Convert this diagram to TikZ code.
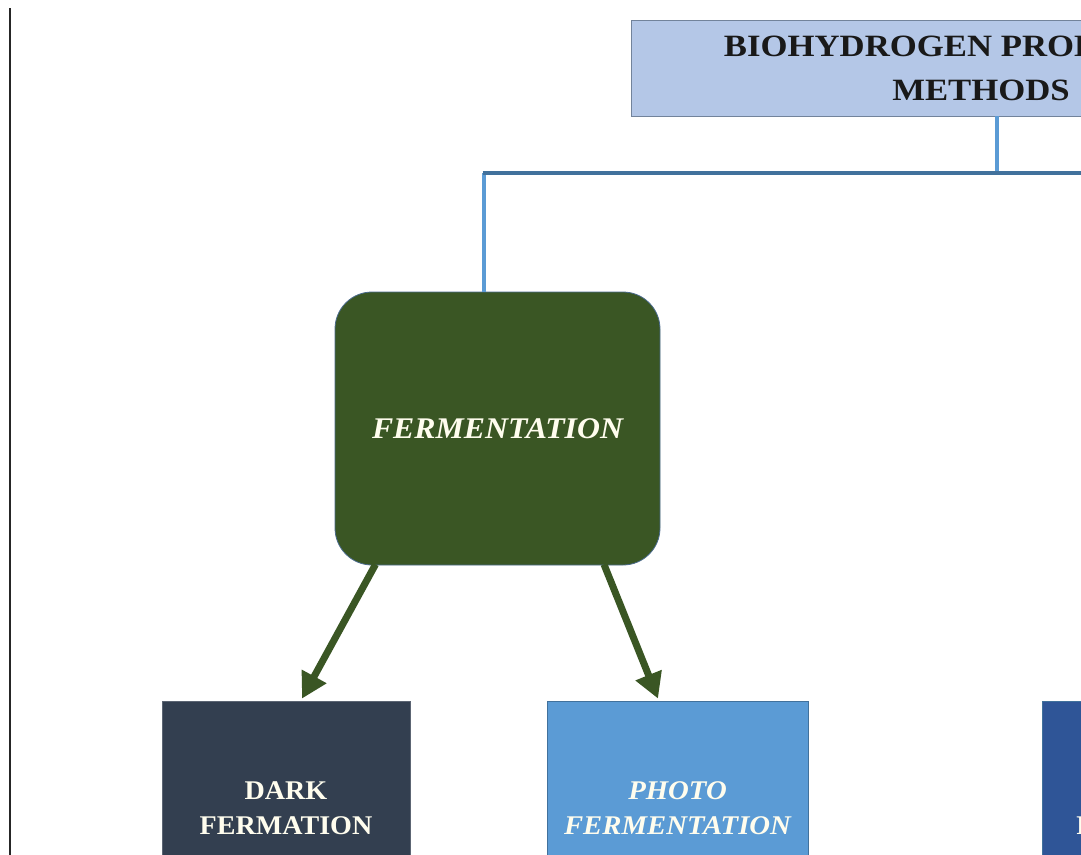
\documentclass[tikz,border=0pt]{standalone}
\usepackage{fontspec}
\setmainfont{Liberation Serif}
\newfontfamily\titlefont[FakeStretch=1.12]{Liberation Serif}
\newfontfamily\fermfont[FakeStretch=1.06]{Liberation Serif}
\newfontfamily\darkfont[FakeStretch=1.04]{Liberation Serif}
\newfontfamily\photofont[FakeStretch=1.065]{Liberation Serif}
\usetikzlibrary{arrows.meta,calc}
\definecolor{topfill}{HTML}{B4C7E7}
\definecolor{topedge}{HTML}{72839B}
\definecolor{fermfill}{HTML}{3A5624}
\definecolor{fermedge}{HTML}{4A6A8C}
\definecolor{darkfill}{HTML}{333F50}
\definecolor{photofill}{HTML}{5B9BD5}
\definecolor{thirdfill}{HTML}{2F5597}
\definecolor{busdark}{HTML}{41719C}
\definecolor{buslight}{HTML}{5B9BD5}
\definecolor{cream}{HTML}{FFFDEE}
\tikzset{
  topbox/.style={draw=topedge, line width=0.6pt, fill=topfill, minimum width=525pt, minimum height=72pt,
    inner sep=0pt, align=center, font=\titlefont\bfseries\fontsize{23.25pt}{33pt}\selectfont, text=black!90},
  fermbox/.style={draw=fermedge, line width=0.6pt, fill=fermfill, rounded corners=27.75pt,
    minimum width=243.75pt, minimum height=204.75pt, inner sep=0pt,
    font=\fermfont\bfseries\itshape\fontsize{22.5pt}{27pt}\selectfont, text=cream},
  subbox/.style={line width=0.6pt, minimum height=161.25pt, inner sep=0pt, align=center, text=cream},
  buslineD/.style={draw=busdark, line width=3pt},
  buslineL/.style={draw=buslight, line width=2.6pt},
  greenarrow/.style={draw=fermfill, line width=5.25pt, -{Triangle[width=20pt,length=19pt]}},
}
\begin{document}
\begin{tikzpicture}[x=0.75pt,y=-0.75pt]
\useasboundingbox (0,0) rectangle (1081,854);
\clip (0,0) rectangle (1081,854);
\fill[white] (0,0) rectangle (1081,854);
% left page edge
\draw[black!85, line width=1.5pt] (10,8) -- (10,860);
% nodes
\node[topbox] (top) at (981,68) {BIOHYDROGEN PRODUCTION\\METHODS};
\node[fermbox] (ferm) at (497.5,428.5) {FERMENTATION};
\node[subbox, draw=darkfill!80!white, fill=darkfill, minimum width=186pt,
  font=\darkfont\bfseries\fontsize{20.25pt}{26.25pt}\selectfont] (dark) at (286,808.5) {DARK\\FERMATION};
\node[subbox, draw=busdark, fill=photofill, minimum width=195.75pt,
  font=\photofont\bfseries\itshape\fontsize{20.25pt}{26.25pt}\selectfont] (photo) at (677.5,808.5) {PHOTO\\FERMENTATION};
\node[subbox, draw=busdark, fill=thirdfill, minimum width=186pt,
  font=\darkfont\bfseries\fontsize{20.25pt}{26.25pt}\selectfont] (third) at (1166,808.5) {BIO\\PHOTOLYSIS};
% bus connectors
\coordinate (busL) at (484,173);
\coordinate (busR) at (1100,173);
\coordinate (drop) at ($(top.south)+(16,0)$);
\draw[buslineL] (drop) -- (drop |- busL);
\draw[buslineL] (busL) -- (busL |- ferm.north);
\draw[buslineD] ($(busL)+(-1.5,0)$) -- (busR);
% arrows
\draw[greenarrow] ($(ferm.south)+(-122,-1)$) -- ($(dark.north)+(16,-2)$);
\draw[greenarrow] ($(ferm.south)+(106.5,-1)$) -- ($(photo.north)+(-19.5,-2)$);
\end{tikzpicture}
\end{document}
